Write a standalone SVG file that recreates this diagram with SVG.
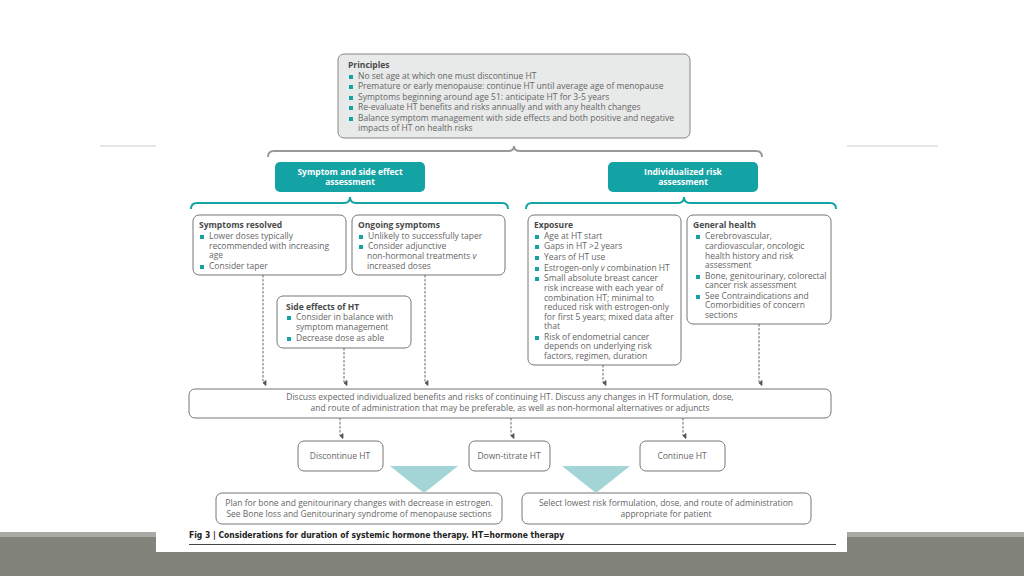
<svg xmlns="http://www.w3.org/2000/svg" width="1024" height="576" viewBox="0 0 1024 576">
<defs>
<style>
.t{font-family:"Open Sans","Noto Sans",sans-serif;font-size:8.5px;fill:#666}
.h{font-family:"Open Sans","Noto Sans",sans-serif;font-size:8.5px;font-weight:bold;fill:#4a4a4a}
.w{font-family:"Open Sans","Noto Sans",sans-serif;font-size:8.5px;font-weight:bold;fill:#fff}
.c{font-family:"DejaVu Sans Condensed","DejaVu Sans",sans-serif;font-size:8.5px;font-weight:bold;fill:#222}
.box{fill:#fff;stroke:#777;stroke-width:1}
.teal{fill:#13a3a5}
.b{fill:#13a3a5}
.con{stroke:#666;stroke-width:1;stroke-dasharray:2.5,1.5;fill:none}
.brace{fill:none;stroke-width:2}
</style>
<marker id="ah" viewBox="0 0 8 8" refX="4" refY="7" markerWidth="8" markerHeight="8" markerUnits="userSpaceOnUse" orient="auto-start-reverse">
<path d="M1.5,4 L4,7 L6.5,4 Z" fill="#555" stroke="#555" stroke-width="0.8"/>
</marker>
</defs>
<rect x="0" y="0" width="1024" height="576" fill="#fff"/>
<rect x="0" y="532" width="1024" height="5" fill="#a9a9a5"/>
<rect x="0" y="537" width="1024" height="39" fill="#82837b"/>
<rect x="156" y="520" width="691" height="32" fill="#fff"/>
<line x1="100" y1="146" x2="156" y2="146" stroke="#ddd" stroke-width="1.5"/>
<line x1="847" y1="146" x2="938" y2="146" stroke="#ddd" stroke-width="1.5"/>

<g id="principles">
<rect x="338" y="54" width="352" height="84" rx="6" fill="#e8e9e9" stroke="#888" stroke-width="1"/>
<text class="h" x="348" y="68">Principles</text>
<rect class="b" x="349" y="75" width="4" height="4"/><text class="t" x="358" y="79">No set age at which one must discontinue HT</text>
<rect class="b" x="349" y="85" width="4" height="4"/><text class="t" x="358" y="89">Premature or early menopause: continue HT until average age of menopause</text>
<rect class="b" x="349" y="96" width="4" height="4"/><text class="t" x="358" y="100">Symptoms beginning around age 51: anticipate HT for 3-5 years</text>
<rect class="b" x="349" y="106" width="4" height="4"/><text class="t" x="358" y="110">Re-evaluate HT benefits and risks annually and with any health changes</text>
<rect class="b" x="349" y="117" width="4" height="4"/><text class="t" x="358" y="121">Balance symptom management with side effects and both positive and negative</text>
<text class="t" x="358" y="131">impacts of HT on health risks</text>
</g>

<g id="braces">
<path class="brace" stroke="#999" d="M268,157 Q268,151 274,151 L508,151 Q514,151 514,146 Q514,151 520,151 L756,151 Q762,151 762,157"/>
<path class="brace" stroke="#13a3a5" d="M191,209 Q191,203 197,203 L344,203 Q350,203 350,197 Q350,203 356,203 L502,203 Q508,203 508,209"/>
<path class="brace" stroke="#13a3a5" d="M526,209 Q526,203 532,203 L678,203 Q684,203 684,197 Q684,203 690,203 L830,203 Q836,203 836,209"/>
</g>

<g id="symptom-assessment">
<rect class="teal" x="275" y="162" width="150" height="30" rx="5"/>
<text class="w" x="350" y="175" text-anchor="middle">Symptom and side effect</text>
<text class="w" x="350" y="185" text-anchor="middle">assessment</text>
</g>
<g id="risk-assessment">
<rect class="teal" x="608" y="162" width="150" height="30" rx="5"/>
<text class="w" x="683" y="175" text-anchor="middle">Individualized risk</text>
<text class="w" x="683" y="185" text-anchor="middle">assessment</text>
</g>

<g id="symptoms-resolved">
<rect class="box" x="193" y="215" width="153" height="60" rx="6"/>
<text class="h" x="199" y="228">Symptoms resolved</text>
<rect class="b" x="200" y="235" width="4" height="4"/><text class="t" x="209" y="239">Lower doses typically</text>
<text class="t" x="209" y="249">recommended with increasing</text>
<text class="t" x="209" y="258">age</text>
<rect class="b" x="200" y="265" width="4" height="4"/><text class="t" x="209" y="269">Consider taper</text>
</g>

<g id="ongoing-symptoms">
<rect class="box" x="352" y="215" width="153" height="60" rx="6"/>
<text class="h" x="358" y="228">Ongoing symptoms</text>
<rect class="b" x="359" y="235" width="4" height="4"/><text class="t" x="368" y="239">Unlikely to successfully taper</text>
<rect class="b" x="359" y="245" width="4" height="4"/><text class="t" x="368" y="249">Consider adjunctive</text>
<text class="t" x="367" y="259">non-hormonal treatments <tspan font-style="italic">v</tspan></text>
<text class="t" x="367" y="269">increased doses</text>
</g>

<g id="exposure">
<rect class="box" x="528" y="215" width="153" height="150" rx="6"/>
<text class="h" x="534" y="228">Exposure</text>
<rect class="b" x="535" y="235" width="4" height="4"/><text class="t" x="544" y="239">Age at HT start</text>
<rect class="b" x="535" y="245" width="4" height="4"/><text class="t" x="544" y="249">Gaps in HT &gt;2 years</text>
<rect class="b" x="535" y="256" width="4" height="4"/><text class="t" x="544" y="260">Years of HT use</text>
<rect class="b" x="535" y="267" width="4" height="4"/><text class="t" x="544" y="271">Estrogen-only <tspan font-style="italic">v</tspan> combination HT</text>
<rect class="b" x="535" y="277" width="4" height="4"/><text class="t" x="544" y="281">Small absolute breast cancer</text>
<text class="t" x="544" y="291">risk increase with each year of</text>
<text class="t" x="544" y="301">combination HT; minimal to</text>
<text class="t" x="544" y="310">reduced risk with estrogen-only</text>
<text class="t" x="544" y="320">for first 5 years; mixed data after</text>
<text class="t" x="544" y="329">that</text>
<rect class="b" x="535" y="336" width="4" height="4"/><text class="t" x="544" y="340">Risk of endometrial cancer</text>
<text class="t" x="544" y="349">depends on underlying risk</text>
<text class="t" x="544" y="359">factors, regimen, duration</text>
</g>

<g id="general-health">
<rect class="box" x="687" y="215" width="144" height="109" rx="6"/>
<text class="h" x="693" y="228">General health</text>
<rect class="b" x="696" y="235" width="4" height="4"/><text class="t" x="705" y="239">Cerebrovascular,</text>
<text class="t" x="705" y="249">cardiovascular, oncologic</text>
<text class="t" x="705" y="259">health history and risk</text>
<text class="t" x="705" y="268">assessment</text>
<rect class="b" x="696" y="275" width="4" height="4"/><text class="t" x="705" y="279">Bone, genitourinary, colorectal</text>
<text class="t" x="705" y="288">cancer risk assessment</text>
<rect class="b" x="696" y="295" width="4" height="4"/><text class="t" x="705" y="299">See Contraindications and</text>
<text class="t" x="705" y="308">Comorbidities of concern</text>
<text class="t" x="705" y="318">sections</text>
</g>

<g id="side-effects">
<rect class="box" x="277" y="296" width="134" height="52" rx="6"/>
<text class="h" x="286" y="310">Side effects of HT</text>
<rect class="b" x="287" y="316" width="4" height="4"/><text class="t" x="296" y="320">Consider in balance with</text>
<text class="t" x="296" y="330">symptom management</text>
<rect class="b" x="287" y="337" width="4" height="4"/><text class="t" x="296" y="341">Decrease dose as able</text>
</g>

<g id="discuss">
<rect class="box" x="189" y="389" width="642" height="29" rx="6"/>
<text class="t" x="510" y="400" text-anchor="middle">Discuss expected individualized benefits and risks of continuing HT. Discuss any changes in HT formulation, dose,</text>
<text class="t" x="510" y="410.5" text-anchor="middle">and route of administration that may be preferable, as well as non-hormonal alternatives or adjuncts</text>
</g>

<g id="discontinue">
<rect class="box" x="298" y="441" width="85" height="30" rx="6"/>
<text class="t" x="340" y="459" text-anchor="middle">Discontinue HT</text>
</g>
<g id="down-titrate">
<rect class="box" x="469" y="441" width="81" height="30" rx="6"/>
<text class="t" x="509" y="459" text-anchor="middle">Down-titrate HT</text>
</g>
<g id="continue">
<rect class="box" x="640" y="441" width="85" height="30" rx="6"/>
<text class="t" x="682" y="459" text-anchor="middle">Continue HT</text>
</g>

<g id="plan-bone">
<rect class="box" x="216" y="493" width="286" height="31" rx="6"/>
<text class="t" x="359" y="505.5" text-anchor="middle">Plan for bone and genitourinary changes with decrease in estrogen.</text>
<text class="t" x="359" y="517" text-anchor="middle">See Bone loss and Genitourinary syndrome of menopause sections</text>
</g>
<g id="select-lowest">
<rect class="box" x="522" y="493" width="289" height="31" rx="6"/>
<text class="t" x="666" y="505.5" text-anchor="middle">Select lowest risk formulation, dose, and route of administration</text>
<text class="t" x="666" y="517" text-anchor="middle">appropriate for patient</text>
</g>

<g id="connectors">
<line class="con" x1="263" y1="275" x2="263" y2="383" marker-end="url(#ah)"/>
<line class="con" x1="425" y1="275" x2="425" y2="383" marker-end="url(#ah)"/>
<line class="con" x1="344" y1="348" x2="344" y2="383" marker-end="url(#ah)"/>
<line class="con" x1="603" y1="365" x2="603" y2="383" marker-end="url(#ah)"/>
<line class="con" x1="759" y1="324" x2="759" y2="383" marker-end="url(#ah)"/>
<line class="con" x1="340" y1="418" x2="340" y2="436" marker-end="url(#ah)"/>
<line class="con" x1="511" y1="418" x2="511" y2="436" marker-end="url(#ah)"/>
<line class="con" x1="683" y1="418" x2="683" y2="436" marker-end="url(#ah)"/>
<polygon points="390,466 458,466 424,493" fill="#a3d4d6"/>
<polygon points="562,466 630,466 596,493" fill="#a3d4d6"/>
</g>

<g id="caption">
<text class="c" x="189" y="538">Fig 3 | Considerations for duration of systemic hormone therapy. HT=hormone therapy</text>
<line x1="189" y1="544.5" x2="836" y2="544.5" stroke="#444" stroke-width="1"/>
</g>
</svg>
